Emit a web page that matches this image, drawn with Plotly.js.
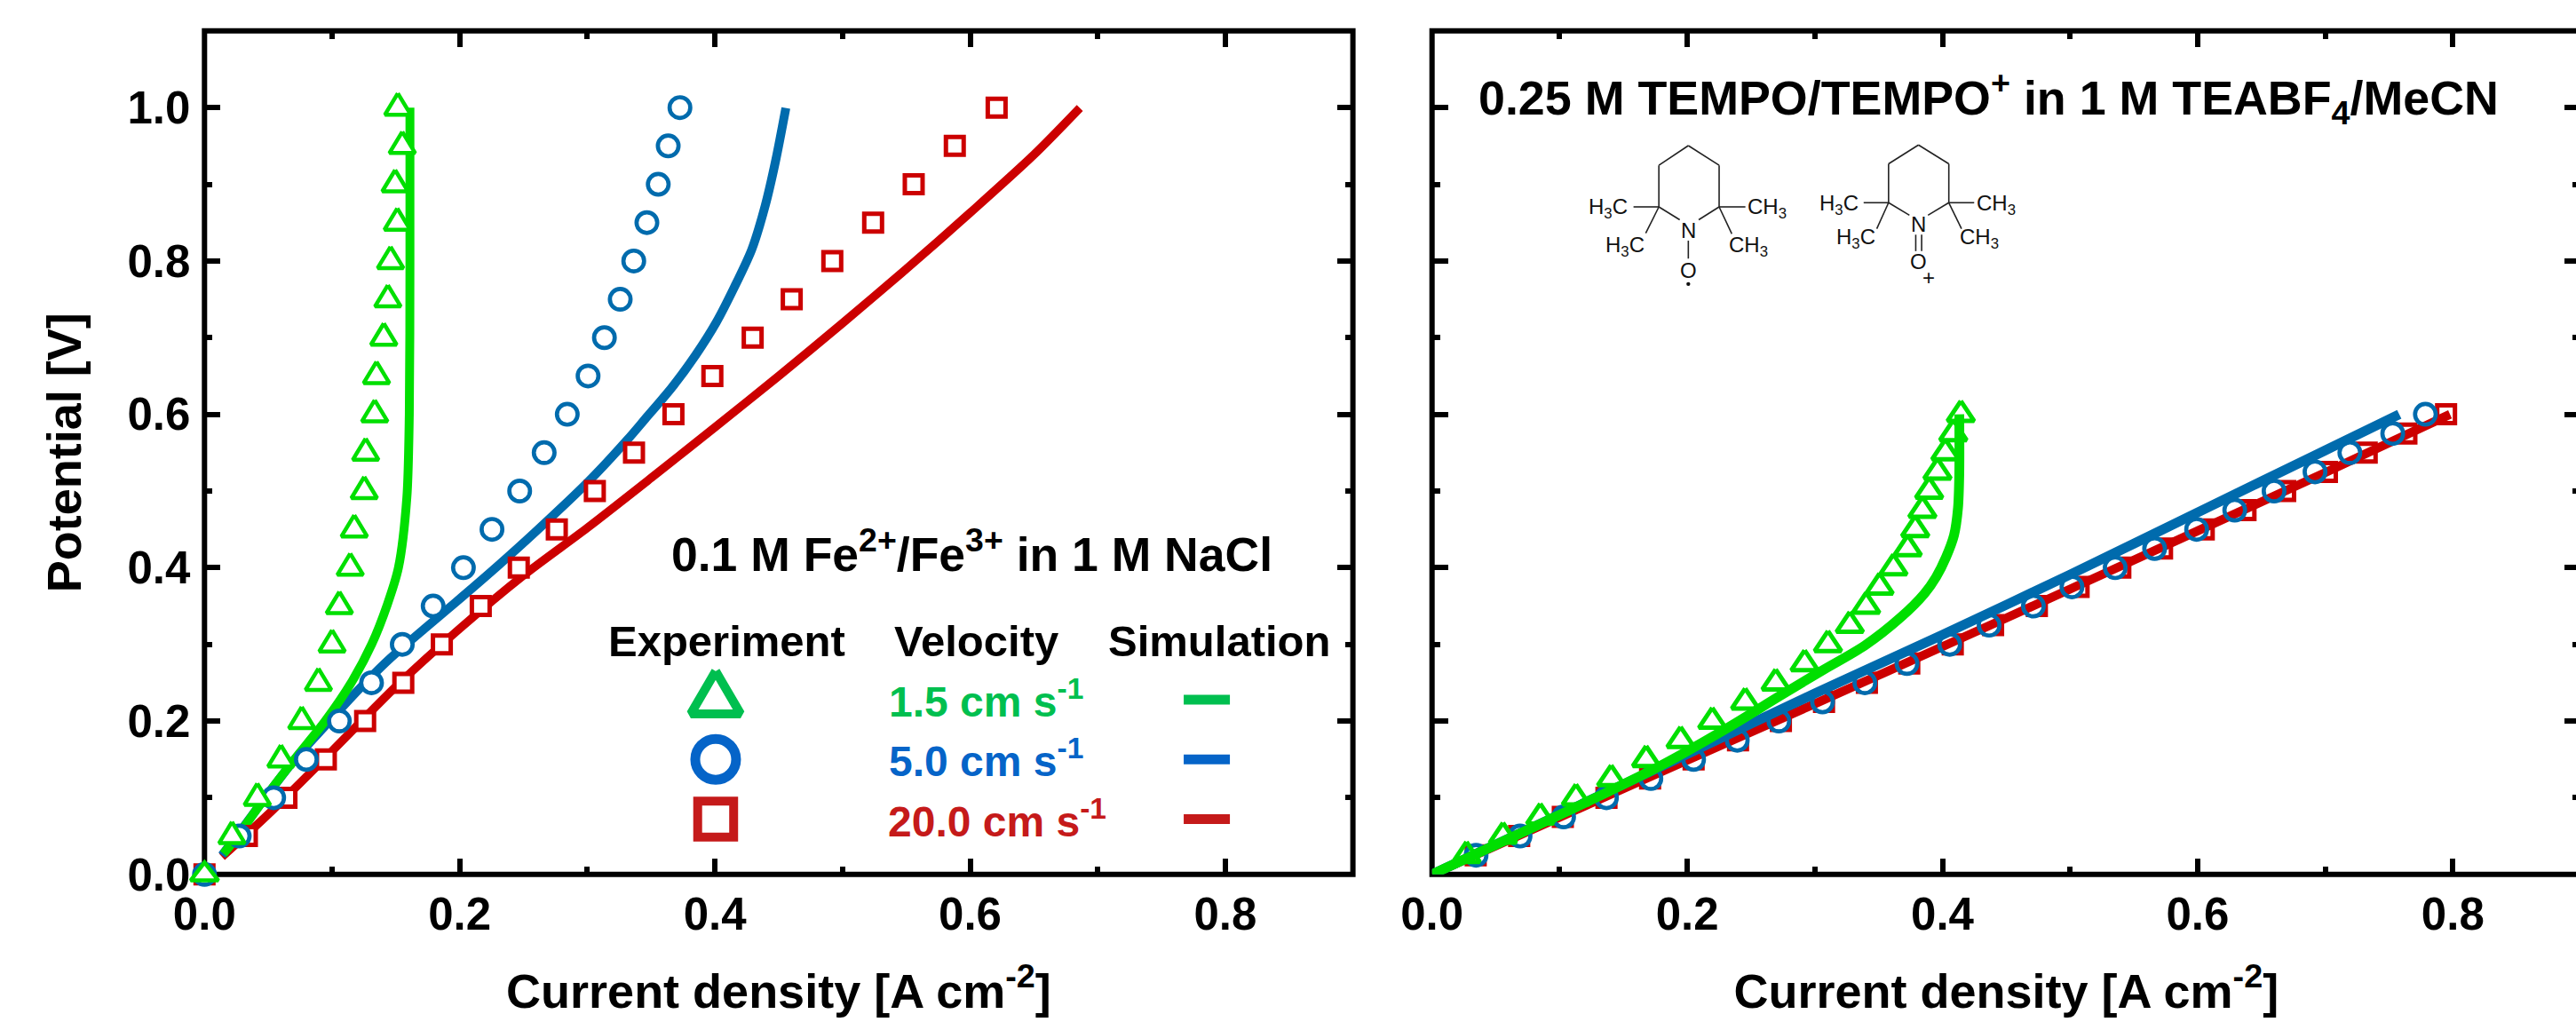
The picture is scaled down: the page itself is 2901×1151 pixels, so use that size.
<!DOCTYPE html>
<html><head><meta charset="utf-8">
<script src="https://cdn.plot.ly/plotly-3.0.1.min.js"></script>
<style>html,body{margin:0;padding:0;background:#fff;overflow:hidden;width:2901px;height:1151px}#chart{width:2910px;height:1151px}</style>
</head><body><div id="chart"></div>
<script>
// ---------- left panel: 0.1 M Fe2+/Fe3+ in 1 M NaCl ----------
const feExpV = [1.0,0.95,0.9,0.85,0.8,0.75,0.7,0.65,0.6,0.55,0.5,0.45,0.4,0.35,0.3,0.25,0.2,0.15,0.1,0.05,0];
const feTriX = [0.1515,0.155,0.1494,0.1511,0.1458,0.1437,0.1405,0.1348,0.1334,0.1263,0.1252,0.1174,0.1142,0.1057,0.1,0.0893,0.0762,0.0599,0.0414,0.0215,0];
const feCircX = [0.3726,0.3634,0.3556,0.3467,0.3364,0.3258,0.3134,0.3006,0.2843,0.2662,0.247,0.2253,0.2029,0.1792,0.155,0.1309,0.1057,0.0798,0.0542,0.0272,0];
const feSqX = [0.6208,0.588,0.5558,0.524,0.492,0.4602,0.4296,0.398,0.3675,0.3366,0.3059,0.2761,0.2463,0.2165,0.186,0.1558,0.1259,0.0951,0.0642,0.0332,0];
const feSimGreenX = [0.0149,0.026,0.0474,0.0705,0.0946,0.115,0.131,0.1433,0.152,0.1586,0.1605,0.161,0.161];
const feSimGreenV = [0.027,0.05,0.1,0.15,0.2,0.25,0.3,0.352,0.4,0.492,0.6,0.8,1.0];
const feSimBlueX = [0.0137,0.0297,0.0492,0.0705,0.0954,0.1202,0.145,0.1735,0.2019,0.2303,0.2587,0.3013,0.3315,0.3454,0.3663,0.3848,0.4011,0.415,0.4289,0.4394,0.4475,0.4556];
const feSimBlueV = [0.025,0.06,0.1037,0.1495,0.1953,0.24,0.281,0.322,0.362,0.403,0.4457,0.513,0.567,0.594,0.635,0.677,0.72,0.765,0.815,0.872,0.93,0.9995];
const feSimRedX = [0.0137,0.05,0.1,0.15,0.2,0.25,0.3,0.35,0.4,0.45,0.5,0.55,0.6,0.65,0.686];
const feSimRedV = [0.023,0.0785,0.161,0.245,0.3205,0.39,0.452,0.517,0.583,0.65,0.7188,0.7895,0.8628,0.9385,0.9995];
// ---------- right panel: TEMPO ----------
const tempoExpV = [0.025,0.05,0.075,0.1,0.125,0.15,0.175,0.2,0.225,0.25,0.275,0.3,0.325,0.35,0.375,0.4,0.425,0.45,0.475,0.5,0.525,0.55,0.575,0.6];
const tempoTriX = [0.027,0.0556,0.0848,0.1128,0.1404,0.1678,0.1948,0.2196,0.2454,0.2693,0.292,0.3103,0.3274,0.3402,0.3507,0.3616,0.3728,0.3787,0.3843,0.3896,0.3961,0.4023,0.4085,0.4144];
const tempoCircX = [0.0345,0.069,0.1031,0.1367,0.1715,0.205,0.2392,0.2718,0.306,0.3392,0.3722,0.4057,0.4366,0.4713,0.5015,0.5354,0.5663,0.5992,0.6291,0.6599,0.692,0.7193,0.7529,0.7785];
const tempoSqX = [0.0342,0.0683,0.1025,0.1367,0.1709,0.205,0.2398,0.2734,0.3072,0.3408,0.374,0.4081,0.4397,0.474,0.5067,0.5394,0.5721,0.6048,0.6375,0.6686,0.7013,0.7325,0.7636,0.7947];
const tempoSimGreenX = [0,0.0565,0.1187,0.1808,0.2305,0.274,0.3051,0.3392,0.3672,0.3858,0.3951,0.4029,0.4091,0.4122,0.4132,0.4132];
const tempoSimGreenV = [0,0.0437,0.0924,0.1433,0.19,0.2342,0.2652,0.2985,0.335,0.366,0.388,0.414,0.4425,0.478,0.5222,0.6];
const tempoSimBlueX = [0,0.1,0.2,0.3,0.4,0.5,0.6,0.7,0.758];
const tempoSimBlueV = [0,0.078,0.157,0.236,0.3125,0.391,0.472,0.553,0.6];
const tempoSimRedX = [0,0.1,0.2,0.3,0.4,0.5,0.6,0.7,0.7978];
const tempoSimRedV = [0,0.0745,0.149,0.2225,0.297,0.372,0.448,0.524,0.6];
// ---------- legend ----------
const legendVelocities = ['1.5 cm s<sup>-1</sup>','5.0 cm s<sup>-1</sup>','20.0 cm s<sup>-1</sup>'];
const legendColors = ['#00BF4F','#0564C8','#C51A1A'];
const legendMarkerX = 0.4006;
const legendV = [0.228,0.15,0.0722];
const legendDashX = [0.7674,0.8036];
const xTicks = [0,0.2,0.4,0.6,0.8];
const yTicks = [0,0.2,0.4,0.6,0.8,1.0];

const GREEN='#00DF00', BLUE='#006BAD', RED='#CC0000';
const FONT='"Liberation Sans", Arial, sans-serif';
const W=2910, H=1151;
const pxPerX=1437, pxPerV=863.7;
const X=p=>p/W, Y=p=>1-p/H;

function triangles(xs,vs,hw,up,dn){
  const x=[],y=[];
  xs.forEach((v,i)=>{
    x.push(v,v+hw/pxPerX,v-hw/pxPerX,v,null);
    y.push(vs[i]+up/pxPerV,vs[i]-dn/pxPerV,vs[i]-dn/pxPerV,vs[i]+up/pxPerV,null);
  });
  return {x,y};
}
const line=(x,y,color,w,ax,name)=>({x,y,xaxis:ax[0],yaxis:ax[1],mode:'lines',name,line:{color,width:w,shape:'spline',smoothing:0.8},cliponaxis:false,hoverinfo:'skip'});
const mark=(x,y,symbol,size,color,lw,ax,name,fill)=>({x,y,xaxis:ax[0],yaxis:ax[1],mode:'markers',name,cliponaxis:false,hoverinfo:'skip',
  marker:{symbol,size,color:fill||'rgba(0,0,0,0)',line:{color,width:lw}}});
const tri=(xs,vs,hw,up,dn,color,lw,ax,name,fill)=>{const t=triangles(xs,vs,hw,up,dn);return {x:t.x,y:t.y,xaxis:ax[0],yaxis:ax[1],mode:'lines',name,cliponaxis:false,hoverinfo:'skip',
  line:{color,width:lw},fill:fill?'toself':'none',fillcolor:fill||'rgba(0,0,0,0)',connectgaps:false};};
const A=['x','y'],B=['x2','y2'];
const last=feTriX.length-1;

const traces=[
  line(feSimRedX,feSimRedV,RED,9.5,A,'Fe simulation 20.0'),
  line(feSimBlueX,feSimBlueV,BLUE,10,A,'Fe simulation 5.0'),
  line(feSimGreenX,feSimGreenV,GREEN,10,A,'Fe simulation 1.5'),
  mark(feSqX,feExpV,'square',20,RED,5,A,'Fe experiment 20.0','#fff'),
  mark(feCircX,feExpV,'circle',23.3,BLUE,4.7,A,'Fe experiment 5.0','#fff'),
  tri(feTriX.slice(0,last),feExpV.slice(0,last),14.5,16,8,GREEN,4.5,A,'Fe experiment 1.5','#fff'),
  mark([feTriX[last]],[feExpV[last]],'triangle-up',27,GREEN,4.5,A,'Fe experiment 1.5 origin','#fff'),
  tri([legendMarkerX],[legendV[0]],28,32,16,legendColors[0],10,A,'key 1.5','#fff'),
  mark([legendMarkerX],[legendV[1]],'circle',46,legendColors[1],11,A,'key 5.0','#fff'),
  mark([legendMarkerX],[legendV[2]],'square',40.5,legendColors[2],10,A,'key 20.0','#fff'),
  ...legendV.map((v,i)=>({x:legendDashX,y:[v,v],xaxis:'x',yaxis:'y',mode:'lines',name:'key line '+i,line:{color:legendColors[i],width:11},hoverinfo:'skip'})),
  mark(tempoSqX,tempoExpV,'square',20,RED,5,B,'TEMPO experiment 20.0','#fff'),
  mark(tempoCircX,tempoExpV,'circle',23.3,'rgba(0,0,0,0)',0,B,'TEMPO circle interior','#fff'),
  line(tempoSimRedX,tempoSimRedV,RED,10,B,'TEMPO simulation 20.0'),
  mark(tempoCircX,tempoExpV,'circle',23.3,BLUE,4.7,B,'TEMPO experiment 5.0'),
  line(tempoSimBlueX,tempoSimBlueV,BLUE,11,B,'TEMPO simulation 5.0'),
  tri(tempoTriX,tempoExpV,15,15,7.5,GREEN,5,B,'TEMPO experiment 1.5'),
  line(tempoSimGreenX,tempoSimGreenV,GREEN,11,B,'TEMPO simulation 1.5'),
];

const tickFont={family:FONT,size:51,color:'#000',weight:700};
const xaxisBase=(dom,anchor)=>({domain:dom,anchor,range:[0,0.9],tickmode:'array',tickvals:xTicks,ticktext:xTicks.map(v=>v.toFixed(1)),
  ticks:'inside',ticklen:18,tickwidth:6,tickcolor:'#000',mirror:'allticks',showline:false,showgrid:false,zeroline:false,
  minor:{ticks:'inside',ticklen:9,tickwidth:6,tickcolor:'#000',tickmode:'array',tickvals:[0.1,0.3,0.5,0.7,0.9],showgrid:false},
  tickfont:tickFont,ticklabelstandoff:10,
  title:{text:'Current density [A cm<sup>-2</sup>]',font:{family:FONT,size:54,color:'#000',weight:700},standoff:40}});
const yaxisBase=(anchor,labels)=>({domain:[1-984.8/H,1-34.8/H],anchor,range:[0,1.1],tickmode:'array',tickvals:yTicks,ticktext:yTicks.map(v=>v.toFixed(1)),
  ticks:'inside',ticklen:18,tickwidth:6,tickcolor:'#000',mirror:'allticks',showline:false,showgrid:false,zeroline:false,showticklabels:labels,
  minor:{ticks:'inside',ticklen:9,tickwidth:6,tickcolor:'#000',tickmode:'array',tickvals:[0.1,0.3,0.5,0.7,0.9,1.1],showgrid:false},
  tickfont:tickFont,ticklabelstandoff:15});

const frame=(x0,x1)=>({type:'rect',xref:'paper',yref:'paper',x0:X(x0),x1:X(x1),y0:Y(984.8),y1:Y(34.8),line:{color:'#000',width:6},fillcolor:'rgba(0,0,0,0)',layer:'below'});

const zx=z=>1560+z/1.96, zy=z=>z/2.97;
const bonds=[
 [669,487,604,553],[669,487,737,553],[604,553,604,692],[737,553,737,692],[604,692,650,735],[737,692,692,735],
 [604,692,548,692],[737,692,795,692],[604,692,575,780],[737,692,765,782],[669,805,669,865],
 [1177,485,1111,548],[1177,485,1244,548],[1111,548,1111,678],[1244,548,1244,678],[1111,678,1157,720],[1244,678,1198,720],
 [1111,678,1056,678],[1244,678,1300,678],[1111,678,1085,765],[1244,678,1272,765],[1171,785,1171,840],[1184,785,1184,840],
];
const bondShapes=bonds.map(b=>({type:'line',xref:'paper',yref:'paper',x0:X(zx(b[0])),y0:Y(zy(b[1])),x1:X(zx(b[2])),y1:Y(zy(b[3])),line:{color:'#222',width:1.6}}));
const radicalDot={type:'circle',xref:'paper',yref:'paper',x0:X(zx(669)-2.2),x1:X(zx(669)+2.2),y0:Y(zy(950)+2.2),y1:Y(zy(950)-2.2),fillcolor:'#111',line:{width:0}};
const chem=(t,z1,z2,anc,s)=>({text:t,xref:'paper',yref:'paper',x:X(zx(z1)),y:Y(zy(z2)),xanchor:anc,yanchor:'middle',showarrow:false,borderpad:0,font:{family:FONT,size:s||24,color:'#111'}});
const chemAnn=[
 chem('H<sub>3</sub>C',537,697,'right'),chem('CH<sub>3</sub>',797,697,'left'),chem('H<sub>3</sub>C',575,825,'right'),chem('CH<sub>3</sub>',757,825,'left'),
 chem('N',669,770,'center'),chem('O',669,905,'center'),
 chem('H<sub>3</sub>C',1047,685,'right'),chem('CH<sub>3</sub>',1303,685,'left'),chem('H<sub>3</sub>C',1083,797,'right'),chem('CH<sub>3</sub>',1266,797,'left'),
 chem('N',1177,750,'center'),chem('O',1177,875,'center'),chem('+',1200,928,'center'),
];
const label=(t,x,base,anc,size,color)=>({text:t,xref:'paper',yref:'paper',x:X(x),y:Y(base+size*0.27),xanchor:anc,yanchor:'bottom',showarrow:false,borderpad:0,
  font:{family:FONT,size,color:color||'#000',weight:700}});

const layout={width:W,height:H,margin:{l:0,r:0,t:0,b:0,pad:0},paper_bgcolor:'#fff',plot_bgcolor:'rgba(0,0,0,0)',showlegend:false,
  xaxis:xaxisBase([X(230.3),X(230.3+0.9*pxPerX)],'y'),
  yaxis:{...yaxisBase('x',true),title:{text:'Potential [V]',font:{family:FONT,size:54,color:'#000',weight:700},standoff:34}},
  xaxis2:xaxisBase([X(1612.7),X(1612.7+0.9*pxPerX)],'y2'),
  yaxis2:yaxisBase('x2',false),
  shapes:[frame(230.3,230.3+0.9*pxPerX),frame(1612.7,1612.7+0.9*pxPerX),...bondShapes,radicalDot],
  annotations:[
    label('0.1 M Fe<sup>2+</sup>/Fe<sup>3+</sup> in 1 M NaCl',755,641,'left',53.5),
    label('Experiment',818,737,'center',49),
    label('Velocity',1099,737,'center',49),
    label('Simulation',1373,737,'center',49),
    label(legendVelocities[0],1000,805,'left',48,legendColors[0]),
    label(legendVelocities[1],1000,872,'left',48,legendColors[1]),
    label(legendVelocities[2],999,940,'left',48,legendColors[2]),
    label('0.25 M TEMPO/TEMPO<sup>+</sup> in 1 M TEABF<sub>4</sub>/MeCN',1664,134,'left',53.8),
    ...chemAnn
  ]};
Plotly.newPlot('chart',traces,layout,{displayModeBar:false,staticPlot:true});
</script></body></html>
